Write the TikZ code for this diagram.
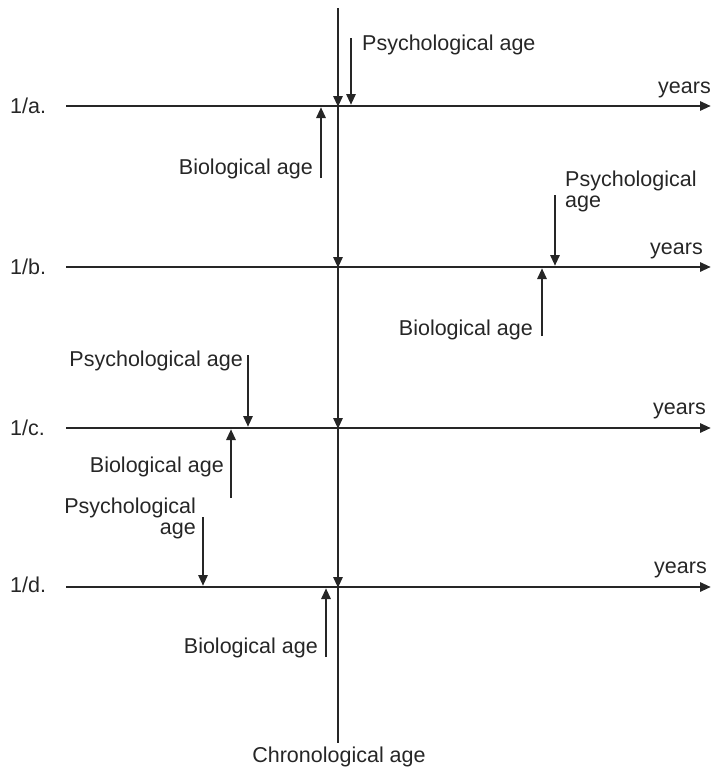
\documentclass[tikz,border=0pt]{standalone}
\usepackage{fontspec}
\setmainfont{Liberation Sans}
\usepackage{tikz}
\usetikzlibrary{positioning,arrows.meta}
\tikzset{
  agetext/.style={font=\fontsize{21.5}{21}\selectfont, inner sep=0pt, text=black!85},
  axisarrow/.style={-{Triangle[length=11pt,width=9pt]}, line width=2.8pt, draw=black!85},
  chronoarrow/.style={-{Triangle[length=11pt,width=9pt]}, line width=2.8pt, draw=black!85, shorten >=-1pt},
  psyarrow/.style={-{Triangle[length=11pt,width=9pt]}, line width=2.8pt, draw=black!85},
  bioarrow/.style={-{Triangle[length=11pt,width=9pt]}, line width=2.8pt, draw=black!85}
}

\begin{document}
\begin{tikzpicture}[x=1pt, y=-1pt]
  \useasboundingbox (0,0) rectangle (711,774);
  % time axes
  \coordinate (a0) at (66,106);  \coordinate (a1) at (711,106);
  \coordinate (b0) at (66,267);  \coordinate (b1) at (711,267);
  \coordinate (c0) at (66,428);  \coordinate (c1) at (711,428);
  \coordinate (d0) at (66,587);  \coordinate (d1) at (711,587);
  \draw[axisarrow] (a0) -- (a1);
  \draw[axisarrow] (b0) -- (b1);
  \draw[axisarrow] (c0) -- (c1);
  \draw[axisarrow] (d0) -- (d1);
  \node[agetext, anchor=base west] (rowa) at (10,113) {1/a.};
  \node[agetext, anchor=base west] (rowb) at (10,274) {1/b.};
  \node[agetext, anchor=base west] (rowc) at (10,435) {1/c.};
  \node[agetext, anchor=base west] (rowd) at (10,592) {1/d.};
  \node[agetext, anchor=base east] (yearsa) at (711,93) {years};
  \node[agetext, anchor=base east] (yearsb) at (703,254) {years};
  \node[agetext, anchor=base east] (yearsc) at (706,414) {years};
  \node[agetext, anchor=base east] (yearsd) at (707,573) {years};
  % chronological age
  \coordinate (chtop) at (338,8);
  \coordinate (cha) at (338,106);
  \coordinate (chb) at (338,267);
  \coordinate (chc) at (338,428);
  \coordinate (chd) at (338,587);
  \coordinate (chbot) at (338,743);
  \draw[chronoarrow] (chtop) -- (cha);
  \draw[chronoarrow] (cha) -- (chb);
  \draw[chronoarrow] (chb) -- (chc);
  \draw[chronoarrow] (chc) -- (chd);
  \draw[line width=2.8pt, draw=black!85] (chd) -- (chbot);
  \node[agetext, anchor=base] (chrono) at (339,762) {Chronological age};
  % 1/a
  \coordinate (psya) at (351,38);   \coordinate (psyat) at (351,105);
  \coordinate (bioa) at (321,178);  \coordinate (bioat) at (321,107);
  \draw[psyarrow] (psya) -- (psyat);
  \draw[bioarrow] (bioa) -- (bioat);
  \node[agetext, anchor=base west] (psyalabel) at (362,50) {Psychological age};
  \node[agetext, anchor=base east] (bioalabel) at (313,174) {Biological age};
  % 1/b
  \coordinate (psyb) at (555,195);  \coordinate (psybt) at (555,266);
  \coordinate (biob) at (542,336);  \coordinate (biobt) at (542,268);
  \draw[psyarrow] (psyb) -- (psybt);
  \draw[bioarrow] (biob) -- (biobt);
  \node[agetext, anchor=base west, align=left] (psyblabel) at (565,207) {Psychological\\age};
  \node[agetext, anchor=base east] (bioblabel) at (533,335) {Biological age};
  % 1/c
  \coordinate (psyc) at (248,355);  \coordinate (psyct) at (248,427);
  \coordinate (bioc) at (231,498);  \coordinate (bioct) at (231,429);
  \draw[psyarrow] (psyc) -- (psyct);
  \draw[bioarrow] (bioc) -- (bioct);
  \node[agetext, anchor=base east] (psyclabel) at (243,366) {Psychological age};
  \node[agetext, anchor=base east] (bioclabel) at (224,472) {Biological age};
  % 1/d
  \coordinate (psyd) at (203,517);  \coordinate (psydt) at (203,586);
  \coordinate (biod) at (326,657);  \coordinate (biodt) at (326,588);
  \draw[psyarrow] (psyd) -- (psydt);
  \draw[bioarrow] (biod) -- (biodt);
  \node[agetext, anchor=base east, align=right] (psydlabel) at (196,534) {Psychological\\age};
  \node[agetext, anchor=base east] (biodlabel) at (318,653) {Biological age};
\end{tikzpicture}
\end{document}
